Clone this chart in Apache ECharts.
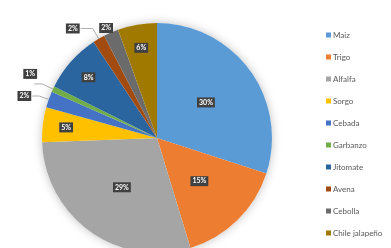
<!DOCTYPE html>
<html><head><meta charset="utf-8">
<script src="https://cdn.jsdelivr.net/npm/echarts@6/dist/echarts.min.js"></script>
<style>html,body{margin:0;padding:0;background:#fff}#c{width:391px;height:248px}</style>
</head><body><div id="c"></div>
<script>
// Data
const categories = ['Maiz','Trigo','Alfalfa','Sorgo','Cebada','Garbanzo','Jitomate','Avena','Cebolla','Chile jalapeño'];
const shares = [30, 15.3, 29.1, 4.9, 2.3, 0.8, 8.3, 1.7, 2.1, 5.5];

// Styling / label placement (not data)
const colors = ['#5B9BD5','#ED7D31','#A5A5A5','#FFC000','#4472C4','#70AD47','#2A65A0','#A24B10','#6B6B6B','#A07A00'];
const placement = ['mid','mid','mid','rim','out','out','rim','out','out','rim'];
const lineLen = {4:[10,7],5:[12,8],7:[12,12],8:[5,0]};
const nudge = {5:{dx:4, dy:-10}, 8:{dx:5}};

const CX = 157, CY = 138, R = 115;
const boxLabel = {
  backgroundColor:'#404040', color:'#fff', fontSize:7, fontWeight:'bold',
  fontFamily:'Lato', padding:[2,2,1,2],
  formatter: p => Math.round(p.percent) + '%'
};

const mainData = categories.map((n,i)=>{
  const d = {name:n, value:shares[i], itemStyle:{color:colors[i]}};
  if (placement[i]==='mid') d.label = Object.assign({show:true, position:'inside'}, boxLabel);
  else if (placement[i]==='out') {
    d.label = Object.assign({show:true, position:'outside', distanceToLabelLine:1}, boxLabel);
    d.labelLine = {show:true, length:lineLen[i][0], length2:lineLen[i][1], lineStyle:{color:'#8c8c8c', width:0.7}};
  } else d.label = {show:false};
  return d;
});
const rimData = categories.map((n,i)=>{
  const d = {name:n, value:shares[i], itemStyle:{color:'rgba(0,0,0,0)'}};
  d.label = placement[i]==='rim' ? Object.assign({show:true, position:'inside'}, boxLabel) : {show:false};
  return d;
});
const total = shares.reduce((a,b)=>a+b,0);

const chart = echarts.init(document.getElementById('c'), null, {renderer:'canvas'});
chart.setOption({
  animation:false,
  textStyle:{fontFamily:'Lato'},
  legend:{
    orient:'vertical', left:321, top:25, icon:'rect',
    itemWidth:5, itemHeight:5, itemGap:12,
    textStyle:{fontSize:8, lineHeight:10, color:'#595959', fontFamily:'Lato', padding:[0,0,0,-3]},
    data: categories.map((n,i)=>({name:n, itemStyle:{color:colors[i]}}))
  },
  series:[
    {type:'pie', name:'bg', silent:true, radius:R, center:[CX,CY], z:1,
     label:{show:false}, labelLine:{show:false},
     itemStyle:{color:'#fff', shadowBlur:10, shadowColor:'rgba(0,0,0,0.25)'},
     data:[{name:'_total', value:total}]},
    {type:'pie', name:'main', radius:R, center:[CX,CY], startAngle:90, clockwise:true, z:2,
     avoidLabelOverlap:false, itemStyle:{borderWidth:0},
     labelLayout: p => nudge[p.dataIndex] || null,
     data: mainData},
    {type:'pie', name:'rim', silent:true, radius:[62,R], center:[CX,CY], startAngle:90, clockwise:true, z:3,
     legendHoverLink:false, avoidLabelOverlap:false, labelLine:{show:false},
     data: rimData}
  ]
});
</script></body></html>
